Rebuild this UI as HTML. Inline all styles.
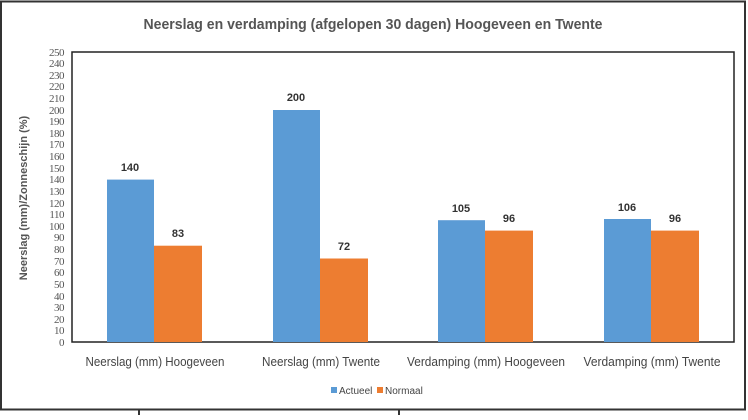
<!DOCTYPE html>
<html><head><style>body{margin:0;background:#fff}</style></head><body>
<svg width="748" height="415" xmlns="http://www.w3.org/2000/svg" font-family="Liberation Sans, sans-serif">
<rect x="0" y="0" width="748" height="415" fill="#fff"/>
<rect x="1" y="1.5" width="744" height="408" fill="none" stroke="#333" stroke-width="2"/>
<line x1="139" y1="410" x2="139" y2="415" stroke="#333" stroke-width="2"/>
<line x1="399" y1="410" x2="399" y2="415" stroke="#333" stroke-width="2"/>
<text x="373" y="29" text-anchor="middle" font-size="15" font-weight="bold" fill="#555" textLength="459" lengthAdjust="spacingAndGlyphs">Neerslag en verdamping (afgelopen 30 dagen) Hoogeveen en Twente</text>
<rect x="72" y="52" width="662" height="290" fill="#fff" stroke="#222" stroke-width="1.5"/>
<g font-size="11" fill="#555" text-anchor="end" font-family="Liberation Serif, serif" letter-spacing="-0.5">
<text x="64" y="346">0</text><text x="64" y="334">10</text><text x="64" y="323">20</text><text x="64" y="311">30</text><text x="64" y="300">40</text><text x="64" y="288">50</text><text x="64" y="276">60</text><text x="64" y="265">70</text><text x="64" y="253">80</text><text x="64" y="241">90</text><text x="64" y="230">100</text><text x="64" y="218">110</text><text x="64" y="207">120</text><text x="64" y="195">130</text><text x="64" y="183">140</text><text x="64" y="172">150</text><text x="64" y="160">160</text><text x="64" y="148">170</text><text x="64" y="137">180</text><text x="64" y="125">190</text><text x="64" y="114">200</text><text x="64" y="102">210</text><text x="64" y="90">220</text><text x="64" y="79">230</text><text x="64" y="67">240</text><text x="64" y="56">250</text>
</g>
<text transform="translate(27,198) rotate(-90)" text-anchor="middle" font-size="11" font-weight="bold" fill="#555">Neerslag (mm)/Zonneschijn (%)</text>
<g>
<rect x="107" y="179.6" width="47" height="162.4" fill="#5b9bd5"/><rect x="154" y="245.7" width="48" height="96.3" fill="#ed7d31"/>
<rect x="273" y="110" width="47" height="232" fill="#5b9bd5"/><rect x="320" y="258.5" width="48" height="83.5" fill="#ed7d31"/>
<rect x="438" y="220.2" width="47" height="121.8" fill="#5b9bd5"/><rect x="485" y="230.6" width="48" height="111.4" fill="#ed7d31"/>
<rect x="604" y="219" width="47" height="123" fill="#5b9bd5"/><rect x="651" y="230.6" width="48" height="111.4" fill="#ed7d31"/>
</g>
<g font-size="11" font-weight="bold" fill="#333" text-anchor="middle">
<text x="130" y="171">140</text><text x="178" y="237">83</text>
<text x="296" y="101">200</text><text x="344" y="250">72</text>
<text x="461" y="212">105</text><text x="509" y="222">96</text>
<text x="627" y="211">106</text><text x="675" y="222">96</text>
</g>
<g font-size="12.5" fill="#444" text-anchor="middle">
<text x="155" y="366" textLength="139" lengthAdjust="spacingAndGlyphs">Neerslag (mm) Hoogeveen</text>
<text x="321" y="366" textLength="118" lengthAdjust="spacingAndGlyphs">Neerslag (mm) Twente</text>
<text x="486" y="366" textLength="158" lengthAdjust="spacingAndGlyphs">Verdamping (mm) Hoogeveen</text>
<text x="652" y="366" textLength="137" lengthAdjust="spacingAndGlyphs">Verdamping (mm) Twente</text>
</g>
<rect x="331" y="387" width="6" height="6" fill="#5b9bd5"/>
<text x="339" y="394" font-size="10" fill="#444">Actueel</text>
<rect x="377" y="387" width="6" height="6" fill="#ed7d31"/>
<text x="385" y="394" font-size="10" fill="#444">Normaal</text>
</svg>
</body></html>
